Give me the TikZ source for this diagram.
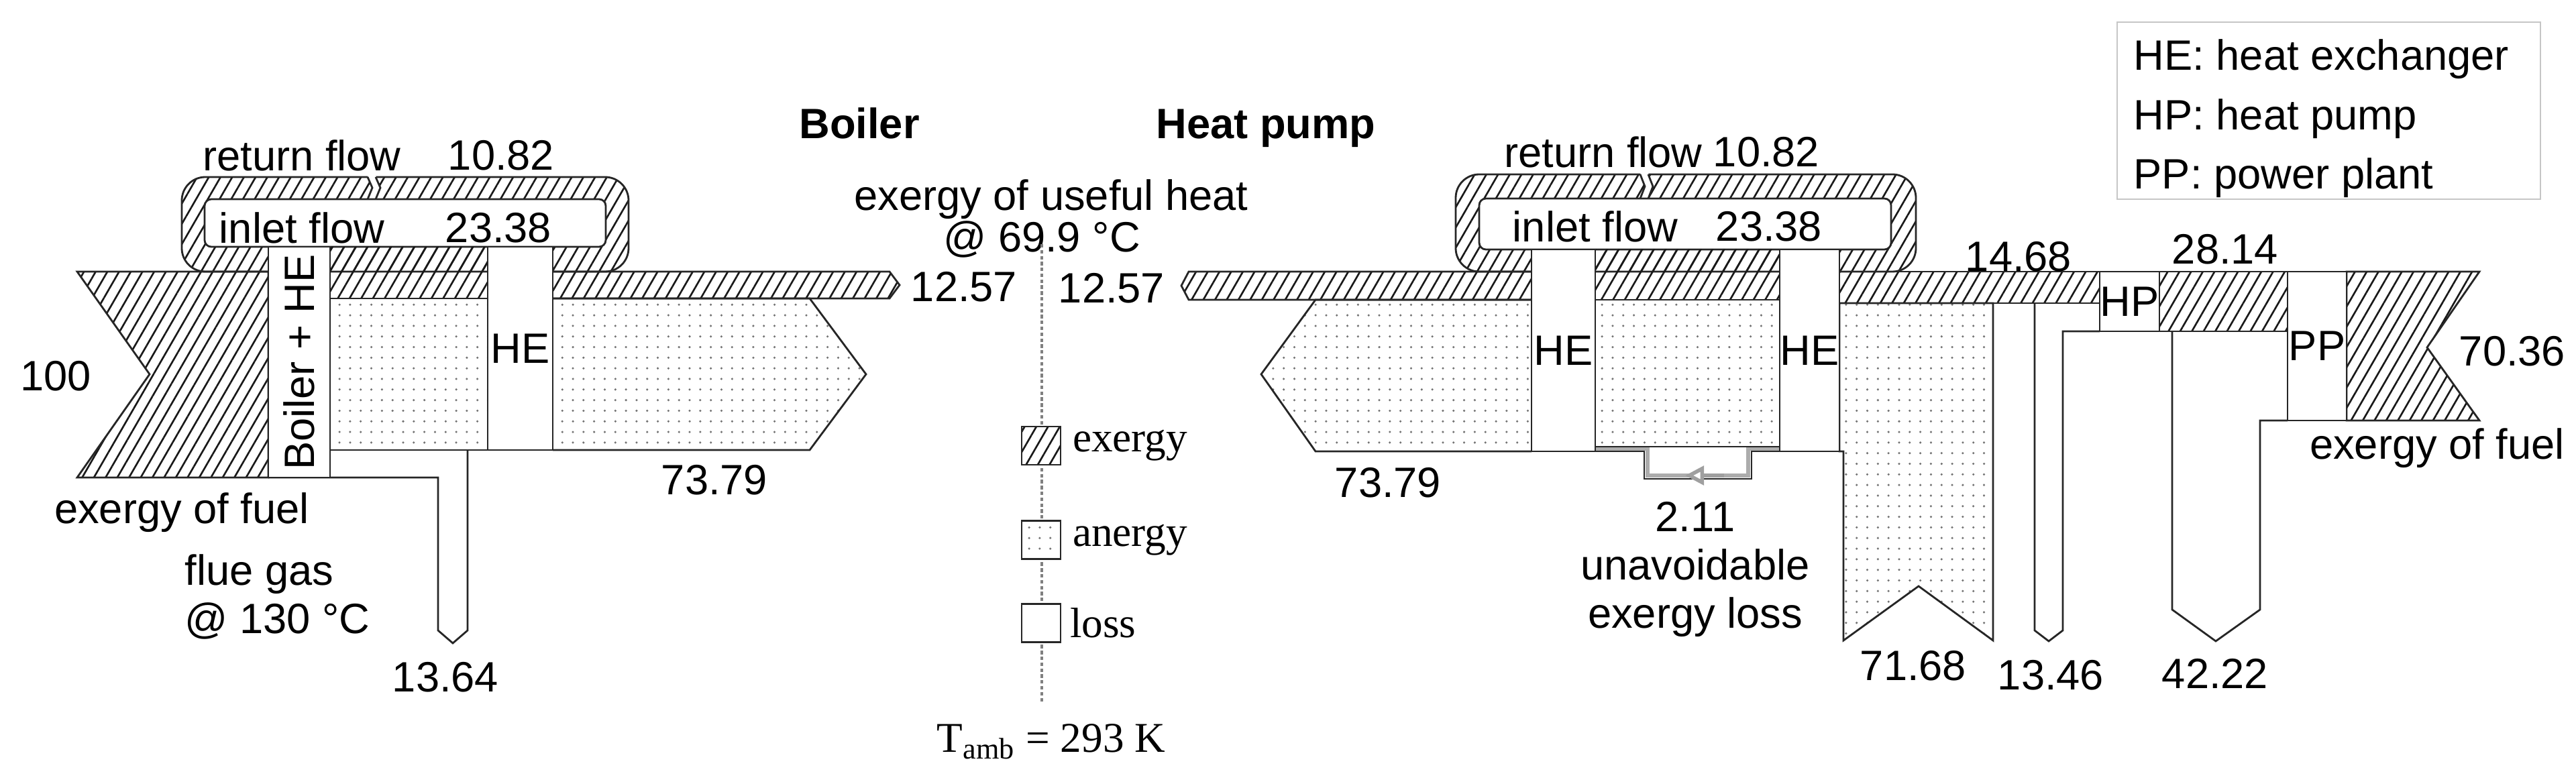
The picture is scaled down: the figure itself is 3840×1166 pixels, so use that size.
\documentclass[tikz,border=0pt]{standalone}
\usepackage{fontspec}
\setmainfont{Liberation Sans}
\newfontfamily\legfont{Liberation Serif}
\usetikzlibrary{patterns.meta,positioning,arrows.meta}
\newcommand{\flowfont}{\fontsize{18pt}{20.5pt}\selectfont}
\tikzset{
  exergy/.style={pattern={Lines[angle=60,distance=4.3pt,line width=0.75pt]},pattern color=black!90},
  anergy/.style={pattern={Dots[distance=4.5pt,radius=0.5pt]},pattern color=black!55},
  flowline/.style={draw=black!85,line width=0.8pt},
  unit/.style={flowline,fill=white},
  lgbox/.style={flowline,minimum width=5.8mm,minimum height=5.7mm}
}

\begin{document}
\begin{tikzpicture}[x=0.1mm,y=-0.1mm,every node/.style={font=\flowfont,inner sep=0pt}]
\useasboundingbox (0,0) rectangle (3840,1166);

% boiler
\draw[flowline,exergy,rounded corners=3.5mm] (271,264) rectangle (937,405);
\fill[white] (548,262) -- (560,262) -- (567,280) -- (560,299) -- (548,299) -- (555,280) -- cycle;
\draw[flowline] (548,264) -- (555,280) -- (548,297) (560,264) -- (567,280) -- (560,297);
\draw[flowline,fill=white,rounded corners=1mm] (305,297) rectangle (903,368);
\draw[flowline,exergy] (115,405) -- (400,405) -- (400,712) -- (115,712) -- (223,558) -- cycle;
\fill[exergy] (492,368) rectangle (727,445);
\draw[flowline,exergy] (824,405) -- (1326,405) -- (1341,425) -- (1326,445) -- (824,445);
\draw[flowline,anergy] (492,445) rectangle (727,671);
\draw[flowline,anergy] (824,445) -- (1207,445) -- (1291,558) -- (1207,671) -- (824,671);
\draw[flowline] (400,712) -- (653,712) -- (653,940) -- (675,959) -- (697,940) -- (697,671);
\node[unit,minimum width=9.2mm,minimum height=34.4mm] (boiler) at (446,540) {};
\node[rotate=90] (boilertxt) at (boiler) {Boiler + HE};
\node[unit,minimum width=9.7mm,minimum height=30.3mm] (heA) at (775.5,519.5) {HE};

\node (retA) at (450,232) {return flow};
\node (retAv) at (747,232) {10.82};
\node (inA) at (450,340) {inlet flow};
\node (inAv) at (743,340) {23.38};
\node (fuelA) at (83,561) {100};
\node (fuelAt) at (271,764) {exergy of fuel};
\node[anchor=west,align=left] (flue) at (275,890) {flue gas\\@ 130 °C};
\node (flueV) at (664,1010) {13.64};
\node (anA) at (1065,716) {73.79};

% middle
\node[font=\flowfont\bfseries] (boilerT) at (1281,184) {Boiler};
\node[font=\flowfont\bfseries] (hpT) at (1887,191) {Heat pump};
\node (useful) at (1567,297) {exergy of useful heat};
\node (usefulT) at (1553,357) {@ 69.9 °C};
\node (usA) at (1437,428) {12.57};
\node (usB) at (1657,430) {12.57};
\coordinate (ambtop) at (1553,364);
\coordinate (ambbot) at (1553,1048);
\draw[gray,line width=1.4pt,dash pattern=on 1.5pt off 1pt] (ambtop) -- (ambbot);
\node[lgbox,exergy,preaction={fill=white}] (lgex) at (1552,664.5) {};
\node[lgbox,anergy,preaction={fill=white}] (lgan) at (1552,805) {};
\node[lgbox,fill=white] (lgls) at (1552,929) {};
\node[right=0.16cm of lgex,font=\flowfont\legfont] (lgext) {exergy};
\node[right=0.16cm of lgan,font=\flowfont\legfont] (lgant) {anergy};
\node[right=0.12cm of lgls,font=\flowfont\legfont] (lglst) {loss};
\node[font=\flowfont\legfont] (tamb) at (1567,1106) {T\textsubscript{amb} = 293 K};

% heat pump
\draw[flowline,exergy,rounded corners=3.5mm] (2170,260) rectangle (2856,405);
\fill[white] (2445,258) -- (2457,258) -- (2464,278) -- (2457,298) -- (2445,298) -- (2452,278) -- cycle;
\draw[flowline] (2445,260) -- (2452,278) -- (2445,296) (2457,260) -- (2464,278) -- (2457,296);
\draw[flowline,fill=white,rounded corners=1mm] (2205,296) rectangle (2819,372);
\draw[flowline,exergy] (2283,405) -- (1772,405) -- (1761,426) -- (1772,447) -- (2283,447);
\fill[exergy] (2378,372) rectangle (2653,447);
\draw[flowline,exergy] (2742,405) rectangle (3130,452);
\draw[flowline,exergy] (3219,405) rectangle (3410,494);
\draw[flowline,exergy] (3498,405) -- (3696,405) -- (3618,518) -- (3696,627) -- (3498,627) -- cycle;
\draw[flowline,anergy] (2283,447) -- (1961,447) -- (1880,558) -- (1961,673) -- (2283,673);
\draw[flowline,anergy] (2378,447) rectangle (2653,666);
\draw[flowline,anergy] (2742,452) -- (2971,452) -- (2971,955) -- (2860,874) -- (2748,955) -- (2748,673) -- (2742,673) -- cycle;
\draw[flowline] (3033,452) -- (3033,940) -- (3054,956) -- (3075,940) -- (3075,494) -- (3130,494);
\draw[flowline] (3238,494) -- (3238,909) -- (3303,956) -- (3369,909) -- (3369,627) -- (3410,627);
\draw[flowline] (2378,673) -- (2451,673) -- (2451,714) -- (2611,714) -- (2611,673) -- (2653,673);
\draw[gray!65,line width=1.6pt] (2378,669.5) -| (2456,709) -| (2606,669.5) -- (2653,669.5);
\draw[gray!75,line width=1.6pt,-{Triangle[open,fill=white,length=8pt,width=8pt]}] (2570,709) -- (2512,709);
\node[unit,minimum width=9.5mm,minimum height=30.1mm] (heB) at (2330.5,522.5) {HE};
\node[unit,minimum width=8.9mm,minimum height=30.1mm] (heC) at (2697.5,522.5) {HE};
\node[unit,minimum width=8.9mm,minimum height=8.9mm] (hp) at (3174.5,449.5) {HP};
\node[unit,minimum width=8.8mm,minimum height=22.2mm] (pp) at (3454,516) {PP};

\node (retB) at (2390,227) {return flow};
\node (retBv) at (2633,227) {10.82};
\node (inB) at (2378,338) {inlet flow};
\node (inBv) at (2637,338) {23.38};
\node (anB) at (2069,720) {73.79};
\node[align=center] (unav) at (2527,849) {2.11\\unavoidable\\exergy loss};
\node (exhp) at (3009,383) {14.68};
\node (expp) at (3317,372) {28.14};
\node (anhp) at (2852,993) {71.68};
\node (lshp) at (3057,1007) {13.46};
\node (lspp) at (3302,1004) {42.22};
\node (fuelB) at (3745,524) {70.36};
\node (fuelBt) at (3633,668) {exergy of fuel};

% abbreviations
\node[draw=gray!45,line width=0.8pt,minimum width=63.1mm,minimum height=26.4mm] (abbrbox) at (3471.5,165) {};
\node[anchor=west,align=left] (abbr) at (3180,177) {HE: heat exchanger\\[4.7pt]HP: heat pump\\[4.7pt]PP: power plant};
\end{tikzpicture}
\end{document}
